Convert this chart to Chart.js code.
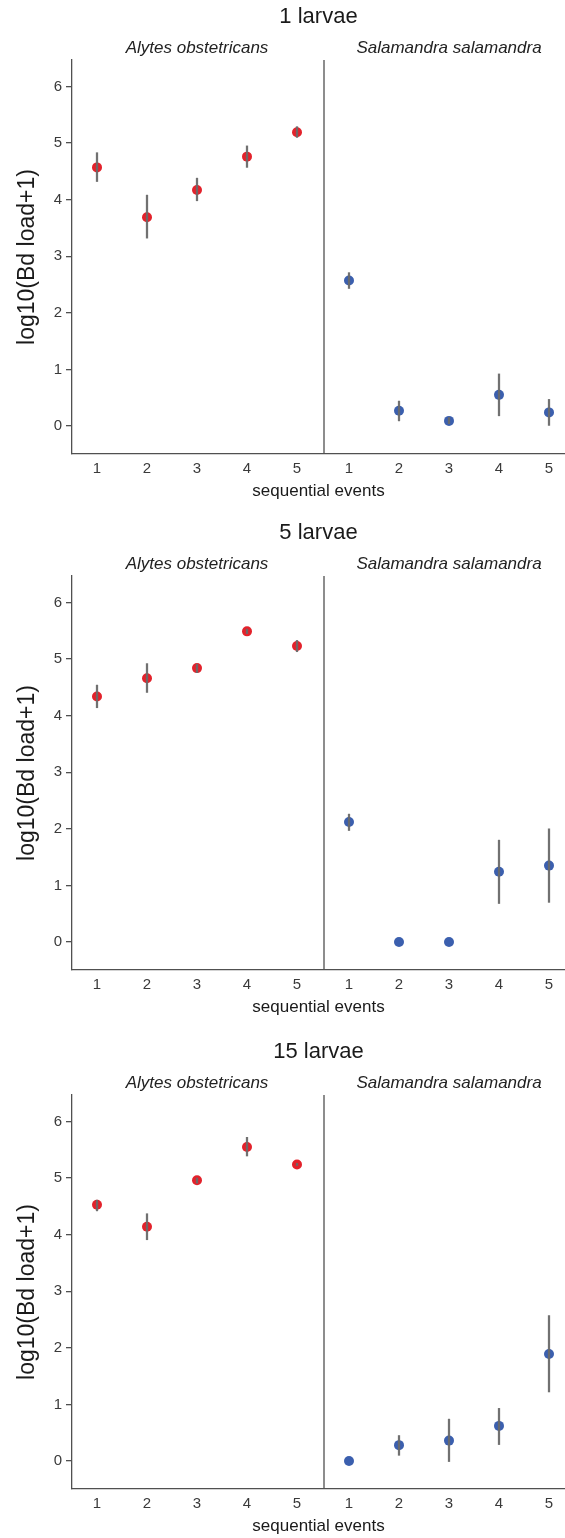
<!DOCTYPE html>
<html lang="en">

<head>
  <meta charset="utf-8">
  <title>log10(Bd load+1) by sequential events</title>
  <script src="https://cdn.jsdelivr.net/npm/chart.js"></script>
  <style>
    body { margin: 0; background: #fff; width: 565px; height: 1538px; overflow: hidden; position: relative; }
    .panel { position: absolute; left: 0; width: 565px; height: 519px; }
  </style>
</head>

<body>
  <div class="panel" style="top:0px"><canvas id="chart1" width="565" height="519"></canvas></div>
  <div class="panel" style="top:516px"><canvas id="chart5" width="565" height="519"></canvas></div>
  <div class="panel" style="top:1035px"><canvas id="chart15" width="565" height="519"></canvas></div>

  <script>
    // data
    const events = [1, 2, 3, 4, 5];
    const species = ['Alytes obstetricans', 'Salamandra salamandra'];
    const yTicks = [0, 1, 2, 3, 4, 5, 6];

    // 1 larvae
    const alytesMean1 = [4.57, 3.69, 4.17, 4.76, 5.19];
    const alytesLow1 = [4.32, 3.32, 3.98, 4.57, 5.10];
    const alytesHigh1 = [4.83, 4.08, 4.38, 4.95, 5.29];
    const salaMean1 = [2.57, 0.27, 0.09, 0.55, 0.24];
    const salaLow1 = [2.43, 0.09, 0.04, 0.18, 0.01];
    const salaHigh1 = [2.71, 0.44, 0.15, 0.92, 0.47];

    // 5 larvae
    const alytesMean5 = [4.34, 4.66, 4.84, 5.49, 5.23];
    const alytesLow5 = [4.14, 4.41, 4.76, 5.45, 5.13];
    const alytesHigh5 = [4.54, 4.92, 4.91, 5.53, 5.33];
    const salaMean5 = [2.12, 0, 0, 1.24, 1.35];
    const salaLow5 = [1.97, null, null, 0.68, 0.70];
    const salaHigh5 = [2.26, null, null, 1.80, 2.00];

    // 15 larvae
    const alytesMean15 = [4.53, 4.14, 4.96, 5.55, 5.24];
    const alytesLow15 = [4.42, 3.91, 4.91, 5.39, 5.22];
    const alytesHigh15 = [4.61, 4.37, 5.00, 5.72, 5.26];
    const salaMean15 = [0, 0.28, 0.36, 0.62, 1.89];
    const salaLow15 = [null, 0.10, -0.01, 0.29, 1.22];
    const salaHigh15 = [null, 0.45, 0.74, 0.93, 2.57];

    const FONT = '"Liberation Sans", Arial, sans-serif';
    const AXIS_COLOR = '#505050';
    const RED = '#E3222B';
    const BLUE = '#3B5FAE';
    const BAR_COLOR = 'rgba(105,105,105,0.95)';

    // x layout: two facets side by side on one linear axis
    const X_MIN = 0.5;
    const FACET_WIDTH = 5.04;
    const X_MAX = 10.36;
    const Y_MIN = -0.495;
    const Y_MAX = 6.468;

    const facetPlugin = {
      id: 'facets',
      beforeDatasetsDraw(chart) {
        let ctx = chart.ctx;
        let area = chart.chartArea;
        let x = chart.scales.x;
        let divider = x.getPixelForValue(X_MIN + FACET_WIDTH);
        ctx.save();
        ctx.strokeStyle = AXIS_COLOR;
        ctx.lineWidth = 1.3;
        ctx.beginPath();
        ctx.moveTo(divider, area.top);
        ctx.lineTo(divider, area.bottom);
        ctx.stroke();
        ctx.restore();
      },
      afterDraw(chart) {
        let ctx = chart.ctx;
        let x = chart.scales.x;
        ctx.save();
        ctx.font = 'italic 17px ' + FONT;
        ctx.fillStyle = '#222';
        ctx.textAlign = 'center';
        ctx.textBaseline = 'middle';
        species.forEach(function (name, i) {
          let cx = x.getPixelForValue(3 + i * FACET_WIDTH);
          ctx.fillText(name, cx, chart.chartArea.top - 12);
        });
        ctx.restore();
      }
    };

    function makeChart(id, title, aMean, aLow, aHigh, sMean, sLow, sHigh) {
      let alytesPts = events.map((e, i) => ({ x: e, y: aMean[i] }));
      let salaPts = events.map((e, i) => ({ x: e + FACET_WIDTH, y: sMean[i] }));
      let bars = [];
      events.forEach((e, i) => {
        if (aLow[i] !== null) bars.push({ x: e, y: [aLow[i], aHigh[i]] });
      });
      events.forEach((e, i) => {
        if (sLow[i] !== null) bars.push({ x: e + FACET_WIDTH, y: [sLow[i], sHigh[i]] });
      });

      return new Chart(document.getElementById(id), {
        type: 'scatter',
        data: {
          datasets: [
            {
              type: 'bar',
              data: bars,
              backgroundColor: BAR_COLOR,
              borderWidth: 0,
              barThickness: 1.6,
              grouped: false,
              order: 0
            },
            {
              data: alytesPts,
              backgroundColor: RED,
              borderColor: RED,
              pointRadius: 5,
              borderWidth: 0,
              order: 1
            },
            {
              data: salaPts,
              backgroundColor: BLUE,
              borderColor: BLUE,
              pointRadius: 5,
              borderWidth: 0,
              order: 1
            }
          ]
        },
        options: {
          responsive: false,
          animation: false,
          devicePixelRatio: 1,
          layout: { padding: 0, autoPadding: false },
          plugins: {
            legend: { display: false },
            tooltip: { enabled: false },
            title: {
              display: true,
              text: title,
              fullSize: false,
              color: '#1a1a1a',
              font: { family: FONT, size: 22, weight: 'normal' },
              padding: { top: 4, bottom: 29.6 }
            }
          },
          scales: {
            x: {
              type: 'linear',
              min: X_MIN,
              max: X_MAX,
              offset: false,
              grid: { display: false, drawTicks: false, offset: false },
              border: { display: true, color: AXIS_COLOR, width: 1.3 },
              afterBuildTicks: function (scale) {
                scale.ticks = events.map(e => ({ value: e }))
                  .concat(events.map(e => ({ value: e + FACET_WIDTH })));
              },
              afterFit: function (scale) {
                scale.height = 65;
                scale.paddingLeft = 0;
                scale.paddingRight = 0;
              },
              ticks: {
                padding: 6,
                color: '#3a3a3a',
                font: { family: FONT, size: 15 },
                maxRotation: 0,
                autoSkip: false,
                callback: function (value) {
                  return value > X_MIN + FACET_WIDTH ? Math.round(value - FACET_WIDTH) : Math.round(value);
                }
              },
              title: {
                display: true,
                text: 'sequential events',
                color: '#1a1a1a',
                font: { family: FONT, size: 17 },
                padding: { top: 0, bottom: 17 }
              }
            },
            y: {
              min: Y_MIN,
              max: Y_MAX,
              beginAtZero: false,
              grid: { drawOnChartArea: false, drawTicks: true, tickLength: 6, color: AXIS_COLOR, lineWidth: 1.3 },
              border: { display: true, color: AXIS_COLOR, width: 1.3 },
              afterBuildTicks: function (scale) {
                scale.ticks = yTicks.map(v => ({ value: v }));
              },
              afterFit: function (scale) { scale.width = 72; },
              ticks: {
                padding: 4,
                color: '#3a3a3a',
                font: { family: FONT, size: 15 }
              },
              title: {
                display: true,
                text: 'log10(Bd load+1)',
                color: '#1a1a1a',
                font: { family: FONT, size: 23 },
                padding: { top: 14, bottom: 0 }
              }
            }
          }
        },
        plugins: [facetPlugin]
      });
    }

    makeChart('chart1', '1 larvae', alytesMean1, alytesLow1, alytesHigh1, salaMean1, salaLow1, salaHigh1);
    makeChart('chart5', '5 larvae', alytesMean5, alytesLow5, alytesHigh5, salaMean5, salaLow5, salaHigh5);
    makeChart('chart15', '15 larvae', alytesMean15, alytesLow15, alytesHigh15, salaMean15, salaLow15, salaHigh15);
  </script>
</body>

</html>
